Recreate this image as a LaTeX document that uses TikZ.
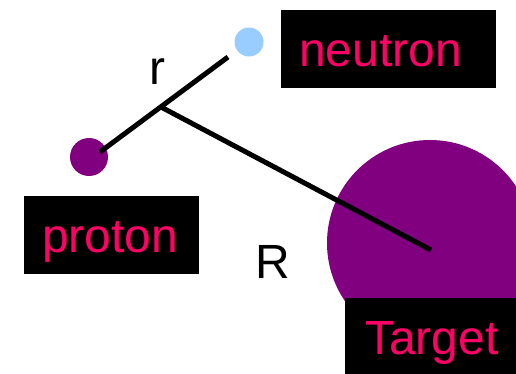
\documentclass[tikz,border=0pt]{standalone}
\usepackage{fontspec}
\setmainfont{Liberation Sans}
\definecolor{PinkText}{HTML}{FF0066}
\definecolor{PurpleDeep}{HTML}{800080}
\definecolor{SkyLite}{HTML}{99CCFF}
\usetikzlibrary{positioning}

\begin{document}
\begin{tikzpicture}[
          x=1pt,y=-1pt,
          tag/.style={fill=black,text=PinkText,anchor=north west,
                      inner xsep=18pt,inner ysep=0pt,align=left,
                      text height=56pt,text depth=22pt,
                      font=\fontsize{48}{48}\selectfont},
          ball/.style={circle,inner sep=0pt},
          bond/.style={line width=5pt,black},
          lbl/.style={anchor=base west,inner sep=0pt,
                      font=\fontsize{48}{48}\selectfont}]
        \useasboundingbox (0,0) rectangle (516,373);
        \clip (0,0) rectangle (516,373);
        % particles and target
        \node[ball,fill=PurpleDeep,minimum size=206pt] (T) at (430,243) {};
        \node[ball,fill=PurpleDeep,minimum size=38pt] (P) at (89,157) {};
        \node[ball,fill=SkyLite,minimum size=29pt] (N) at (249,42) {};
        \coordinate (Pend) at (100,152);
        \coordinate (Nend) at (228,57);
        \coordinate (mid) at (161,107);
        \coordinate (Tend) at (431,250);
        \draw[bond] (Pend) -- (Nend);
        \draw[bond] (mid) -- (Tend);
        % labels
        \node[tag,text width=179pt] (Nlab) at (281,10) {neutron};
        \node[tag,text width=139pt] (Plab) at (24,196) {proton};
        \node[tag,text width=160pt,inner xsep=20pt] (Tlab) at (345,298) {Target};
        \node[lbl] (r) at (149,84) {r};
        \node[lbl] (R) at (255,278) {R};
      \end{tikzpicture}
\end{document}
